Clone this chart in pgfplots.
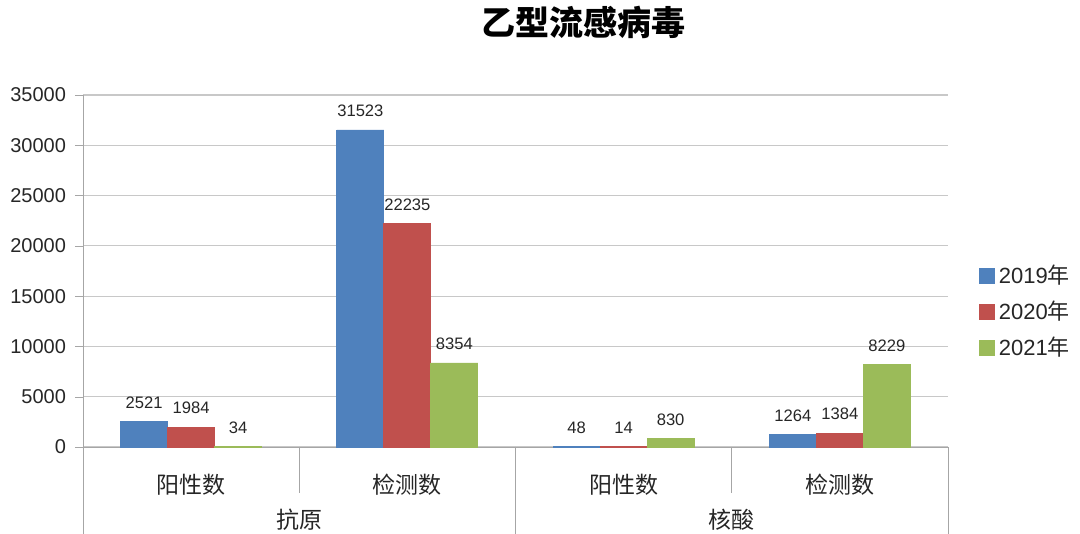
\documentclass[border=0pt]{standalone}
\usepackage{pgfplots}
\pgfplotsset{compat=1.18}
\usepackage{fontspec}
\setmainfont{Liberation Sans}
\newfontfamily\cjk{Noto Sans CJK SC}
\newfontfamily\cjkb{Noto Sans CJK SC Black}

\definecolor{c19}{HTML}{4F81BD}
\definecolor{c20}{HTML}{C0504D}
\definecolor{c21}{HTML}{9BBB59}
\definecolor{gridc}{HTML}{C8C8C8}
\definecolor{axc}{HTML}{A6A6A6}
\definecolor{txt}{HTML}{262626}

\begin{document}
\begin{tikzpicture}
\path[use as bounding box] (0,0) rectangle (540pt,267pt);
\begin{axis}[
    at={(41.5pt,43.5pt)}, anchor=south west,
    scale only axis, width=432.5pt, height=176pt,
    ybar=0pt, bar width=23.5pt,
    xmin=-0.5, xmax=3.5, ymin=0, ymax=35000,
    ytick={0,5000,...,35000},
    xtick=data,
    xticklabels={阳性数,检测数,阳性数,检测数},
    axis lines*=left,
    axis line style={axc},
    ymajorgrids, grid style={gridc, line width=0.6pt},
    y tick style={axc}, tick align=outside, major tick length=4pt,
    x tick style={draw=none},
    scaled y ticks=false,
    /pgf/number format/.cd, fixed, precision=0, 1000 sep={}, assume math mode=true,
    /pgfplots/.cd,
    yticklabel style={font=\fontsize{10}{12}\selectfont, text=txt, xshift=-1pt},
    xticklabel style={font=\cjk\fontsize{11.5}{13}\selectfont, text=txt, anchor=center, yshift=-15pt},
    nodes near coords,
    every node near coord/.append style={font=\fontsize{8.3}{10}\selectfont, text=txt, yshift=3pt},
    clip=false,
    legend style={at={(1.0285,0.540)}, anchor=north west, draw=none, fill=none,
        font=\fontsize{11}{13}\selectfont, text=txt, row sep=3.2pt,
        legend cell align=left},
    legend image code/.code={\fill[#1] (-2pt,-3.75pt) rectangle (5.5pt,3.75pt);},
]
\addplot[fill=c19, draw=c19] coordinates {(0,2521) (1,31523) (2,48) (3,1264)};
\addplot[fill=c20, draw=c20] coordinates {(0,1984) (1,22235) (2,14) (3,1384)};
\addplot[fill=c21, draw=c21] coordinates {(0,34) (1,8354) (2,830) (3,8229)};
\legend{2019{\cjk 年},2020{\cjk 年},2021{\cjk 年}}

\node[font=\cjkb\fontsize{17}{20}\selectfont, text=black, anchor=center]
    at (rel axis cs:0.579,1.207) {乙型流感病毒};
\draw[axc] (axis cs:-0.5,0) -- ++(0pt,-43.5pt);
\draw[axc] (axis cs:0.5,0) -- ++(0pt,-23pt);
\draw[axc] (axis cs:1.5,0) -- ++(0pt,-43.5pt);
\draw[axc] (axis cs:2.5,0) -- ++(0pt,-23pt);
\draw[axc] (axis cs:3.5,0) -- ++(0pt,-43.5pt);
\node[font=\cjk\fontsize{11.5}{13}\selectfont, text=txt] at ([yshift=-36.5pt]axis cs:0.5,0) {抗原};
\node[font=\cjk\fontsize{11.5}{13}\selectfont, text=txt] at ([yshift=-36.5pt]axis cs:2.5,0) {核酸};
\end{axis}
\end{tikzpicture}
\end{document}
